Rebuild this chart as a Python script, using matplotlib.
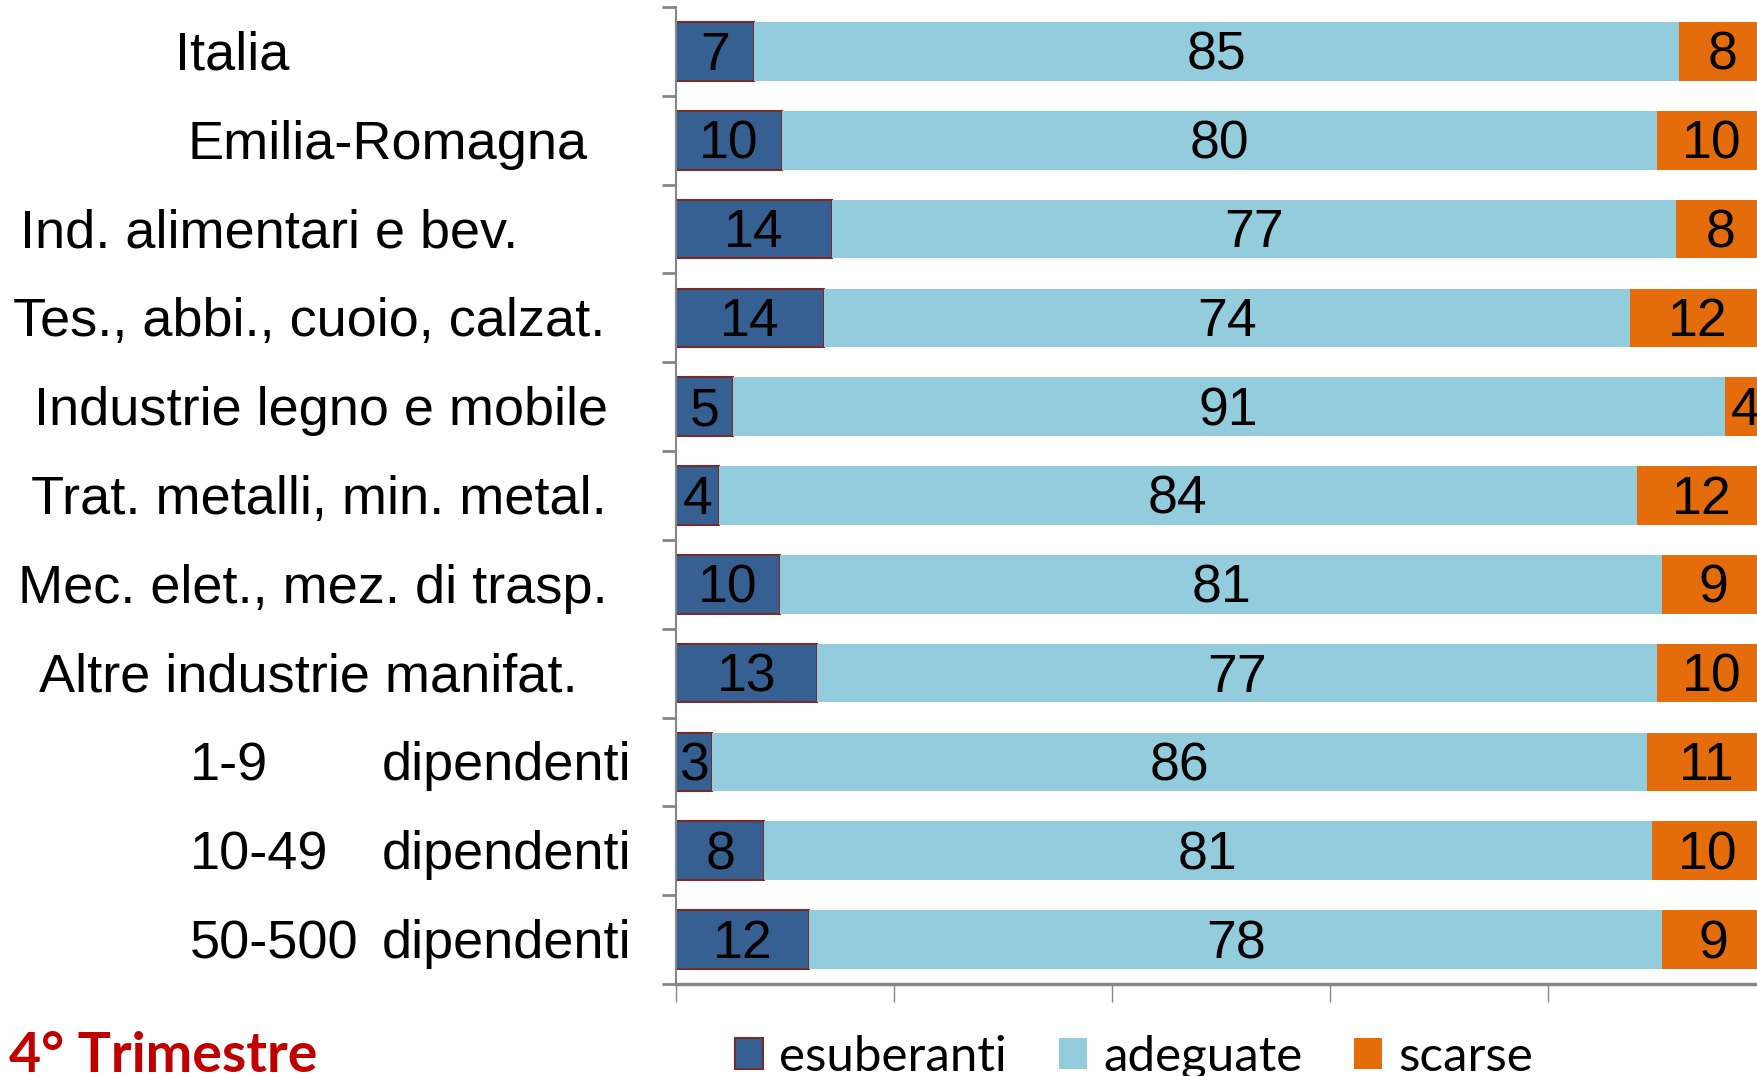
import matplotlib.pyplot as plt
from matplotlib.transforms import blended_transform_factory
import numpy as np

categories = ["Italia", "Emilia-Romagna", "Ind. alimentari e bev.",
              "Tes., abbi., cuoio, calzat.", "Industrie legno e mobile",
              "Trat. metalli, min. metal.", "Mec. elet., mez. di trasp.",
              "Altre industrie manifat.", "1-9 dipendenti", "10-49 dipendenti",
              "50-500 dipendenti"]
# values (labels show them rounded)
esuberanti = [7.2, 9.7, 14.3, 13.6, 5.2, 3.9, 9.5, 12.9, 3.3, 8.1, 12.2]
adeguate = [84.8, 80.3, 77.4, 73.9, 91.0, 84.3, 81.0, 77.1, 85.8, 81.4, 78.3]
scarse = [8.0, 10.0, 8.3, 12.4, 3.8, 11.8, 9.4, 10.0, 10.9, 10.3, 9.4]
series_names = ["esuberanti", "adeguate", "scarse"]

# left edge of each category label, in pixels of the 1758 px wide figure
label_px = [175, 188, 20, 13, 34, 31, 18, 39, 190, 190, 190]
dip_px = 382

W, H = 1758, 1076
fig = plt.figure(figsize=(W / 100, H / 100), dpi=100)
ax = fig.add_axes([676 / W, 1 - 984 / H, 1090 / W, 977 / H])

colors = ["#376092", "#93CDDD", "#E46C0A"]
y = np.arange(len(categories))
vals = [np.array(esuberanti), np.array(adeguate), np.array(scarse)]
left = np.zeros(len(categories))
bars = []
dy = 0.05  # text sits a bit low in the original
for v, c, name in zip(vals, colors, series_names):
    if name == "esuberanti":
        b = ax.barh(y, v, left=left, height=0.66, color=c,
                    edgecolor="#772C2A", linewidth=1.5, label=name)
    else:
        b = ax.barh(y, v, left=left, height=0.66, color=c,
                    linewidth=0, label=name)
    bars.append(b)
    for yi, l, w in zip(y, left, v):
        ax.text(l + w / 2, yi + dy, str(int(round(w))), ha="center",
                va="center", fontsize=38.5, family="Liberation Sans",
                color="black")
    left = left + v

ax.set_xlim(0, 100)
ax.set_ylim(len(categories) - 0.5, -0.5)

ax.set_xticks([0, 20, 40, 60, 80, 100])
ax.set_xticklabels([])
ax.tick_params(axis="x", direction="out", length=13, width=1, color="#868686")
ax.set_yticks(np.arange(len(categories) + 1) - 0.5)
ax.set_yticklabels([])
ax.tick_params(axis="y", direction="out", length=10, width=2, color="#868686")

for s in ["top", "right"]:
    ax.spines[s].set_visible(False)
ax.spines["left"].set_color("#868686")
ax.spines["left"].set_linewidth(1.5)
ax.spines["bottom"].set_color("#868686")
ax.spines["bottom"].set_linewidth(2.5)

tr = blended_transform_factory(fig.transFigure, ax.transData)
for i, (cat, px) in enumerate(zip(categories, label_px)):
    if cat.endswith("dipendenti"):
        size_cls = cat.split(" ")[0]
        ax.text(px / W, i + dy, size_cls, transform=tr, ha="left",
                va="center", fontsize=39, family="Liberation Sans")
        ax.text(dip_px / W, i + dy, "dipendenti", transform=tr, ha="left",
                va="center", fontsize=39, family="Liberation Sans")
    else:
        ax.text(px / W, i + dy, cat, transform=tr, ha="left", va="center",
                fontsize=39, family="Liberation Sans")

fig.text(9 / W, 1 - 1072 / H, "4° Trimestre", ha="left", va="baseline",
         fontsize=40, fontweight="bold", family="Lato", color="#C00000")

fig.legend(handles=bars, labels=series_names, loc="center left",
           bbox_to_anchor=(735 / W, 1 - 1057 / H), ncol=3, frameon=False,
           prop={"family": "Lato", "size": 35.5}, handlelength=0.57,
           handleheight=0.6, handletextpad=0.33, columnspacing=1.05,
           borderpad=0, borderaxespad=0)

fig.savefig("out.png", dpi=100)
